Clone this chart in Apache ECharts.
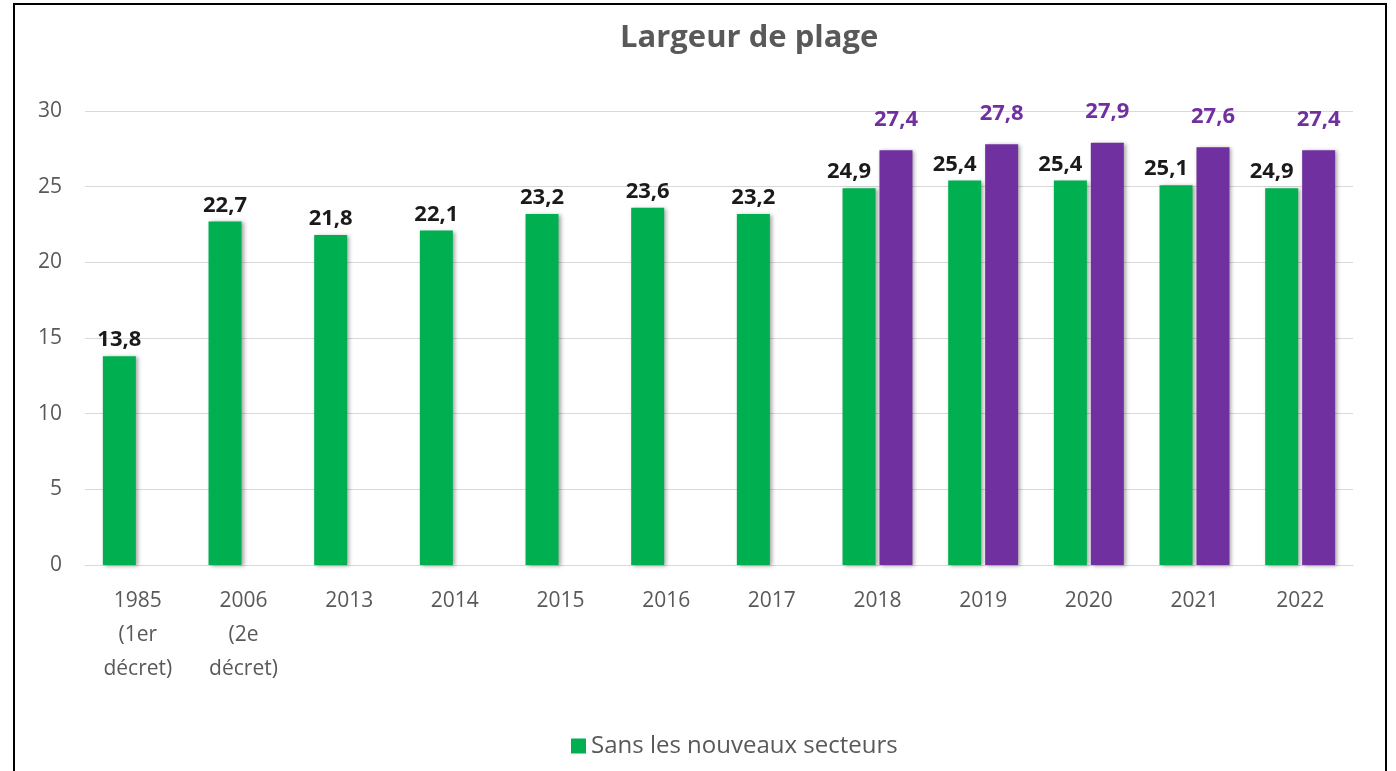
<!DOCTYPE html>
<html>
<head>
<meta charset="utf-8">
<script src="https://cdn.jsdelivr.net/npm/echarts@6/dist/echarts.min.js"></script>
<style>
  html, body { margin: 0; padding: 0; background: #fff; }
  #chart { width: 1396px; height: 771px; }
</style>
</head>
<body>
<div id="chart"></div>
<script>
// catégories et valeurs
const categories = ['1985\n(1er\ndécret)', '2006\n(2e\ndécret)', '2013', '2014', '2015', '2016', '2017', '2018', '2019', '2020', '2021', '2022']
const sansNouveaux = [13.8, 22.7, 21.8, 22.1, 23.2, 23.6, 23.2, 24.9, 25.4, 25.4, 25.1, 24.9]
const avecNouveaux = [null, null, null, null, null, null, null, 27.4, 27.8, 27.9, 27.6, 27.4]
const yTicks = [0, 5, 10, 15, 20, 25, 30]

const fmt = p => String(p.value).replace('.', ',')
const font = '"Open Sans", "Noto Sans", sans-serif'
const shadow = { shadowBlur: 4, shadowColor: 'rgba(0,0,0,0.35)', shadowOffsetX: 2, shadowOffsetY: 1 }

// les étiquettes vertes sont décalées à gauche quand il y a une barre violette
const greenData = sansNouveaux.map((v, i) => avecNouveaux[i] == null ? v : {
  value: v,
  label: { offset: [-10, 0] }
})

const chart = echarts.init(document.getElementById('chart'))
chart.setOption({
  animation: false,
  textStyle: { fontFamily: font },
  graphic: [{
    type: 'rect',
    shape: { x: 14, y: 4, width: 1372, height: 800 },
    style: { fill: 'none', stroke: '#000', lineWidth: 2 },
    silent: true
  }],
  title: {
    text: 'Largeur de plage',
    left: 615,
    top: 18,
    textStyle: { fontSize: 31, fontWeight: 'bold', color: '#595959', fontFamily: font }
  },
  legend: {
    data: ['Sans les nouveaux secteurs'],
    top: 729,
    left: 566,
    itemWidth: 15,
    itemHeight: 15,
    itemGap: 6,
    icon: 'rect',
    textStyle: { fontSize: 24, color: '#595959', fontFamily: font }
  },
  grid: { left: 85, right: 43, top: 111, bottom: 206 },
  xAxis: {
    type: 'category',
    data: categories,
    axisLine: { lineStyle: { color: '#d9d9d9', width: 1 } },
    axisTick: { show: false },
    axisLabel: { fontSize: 21, color: '#595959', lineHeight: 34, margin: 19, interval: 0 }
  },
  yAxis: {
    type: 'value',
    min: yTicks[0],
    max: yTicks[yTicks.length - 1],
    interval: 5,
    axisLine: { show: false },
    axisTick: { show: false },
    splitLine: { lineStyle: { color: '#d9d9d9', width: 1 } },
    axisLabel: { fontSize: 21, color: '#595959', margin: 23 }
  },
  series: [{
    name: 'Sans les nouveaux secteurs',
    type: 'bar',
    data: greenData,
    barWidth: 33,
    barGap: '12%',
    itemStyle: Object.assign({ color: '#00B050' }, shadow),
    label: {
      show: true,
      position: 'top',
      distance: 5,
      formatter: fmt,
      fontSize: 22,
      fontWeight: 'bold',
      color: '#1a1a1a',
      fontFamily: font
    }
  }, {
    name: 'Avec les nouveaux secteurs',
    type: 'bar',
    data: avecNouveaux,
    barWidth: 33,
    itemStyle: Object.assign({ color: '#7030A0' }, shadow),
    label: {
      show: true,
      position: 'top',
      distance: 20,
      formatter: fmt,
      fontSize: 22,
      fontWeight: 'bold',
      color: '#7030A0',
      fontFamily: font
    }
  }]
})
</script>
</body>
</html>
